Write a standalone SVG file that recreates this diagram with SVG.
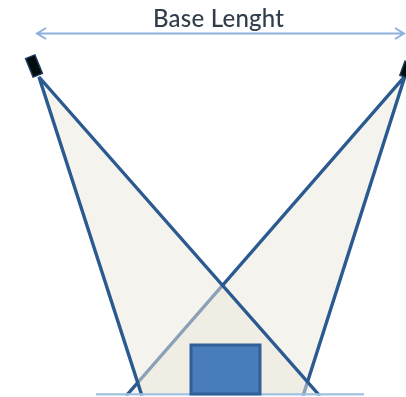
<svg xmlns="http://www.w3.org/2000/svg" width="406" height="397" viewBox="0 0 406 397">
<style>
.beam{fill:#ebe7dd;fill-opacity:.5;stroke:none}
.edge{fill:none;stroke:#2a5a90;stroke-width:3.400}
.cam{fill:#05070c;stroke:#1c3a5e;stroke-width:1.500}
.dim{fill:none;stroke:#8fb0dc;stroke-width:2}
text{font-family:Lato,"Open Sans","Liberation Sans",sans-serif;font-size:24px;font-weight:500;fill:#333e4c}
</style>
<defs><filter id="soft" x="-5%" y="-5%" width="110%" height="110%"><feGaussianBlur stdDeviation="0.5"/></filter>
<clipPath id="c"><rect x="0" y="0" width="406" height="395.500"/></clipPath></defs>
<rect width="406" height="397" fill="#fff"/>
<g filter="url(#soft)">
<g id="connectors" clip-path="url(#c)">
<polygon class="beam" points="405,76 126,395 304,395"/>
<path class="edge" d="M126,396 L405,76 M303,396 L405,76"/>
<polygon class="beam" points="39,77 142,395 320,395"/>
<path class="edge" d="M142,396 L39,77 L320,396"/>
<path class="dim" d="M37,33.500 H404 M46,28 L37,33.500 L46,39 M395,28 L404,33.500 L395,39"/>
<path d="M96,394.500 H364" fill="none" stroke="#9dbfe0" stroke-width="2.500"/>
</g>
<g id="label"><text x="218.500" y="27" text-anchor="middle" textLength="131">Base Lenght</text></g>
<g id="camera-left"><rect class="cam" x="29" y="56" width="10" height="20" transform="rotate(-22 34 66)"/></g>
<g id="camera-right"><rect class="cam" x="402" y="62" width="8" height="15" transform="rotate(20 406 70)"/></g>
<g id="object"><rect x="191" y="345" width="69" height="49" fill="#4a7cba" stroke="#335f97" stroke-width="3"/></g>
</g>
</svg>
